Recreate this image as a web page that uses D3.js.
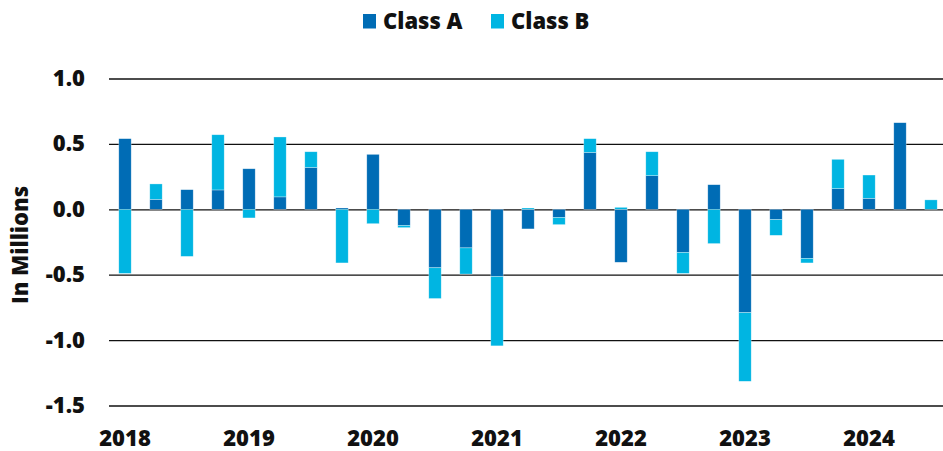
<!DOCTYPE html>
<html lang="en">
  <head>
    <meta charset="UTF-8" />
    <title>Class A / Class B</title>
    <script src="https://d3js.org/d3.v7.min.js"></script>
    <style>
      body { margin: 0; background: #fff; }
      text { font-family: "Open Sans", "Noto Sans", sans-serif; font-weight: 800; fill: #111; }
    </style>
  </head>
  <body>
    <div id="chart"></div>
    <script>
      // quarters 2018 Q1 .. 2024 Q3
      const quarters = [
        "2018 Q1", "2018 Q2", "2018 Q3", "2018 Q4",
        "2019 Q1", "2019 Q2", "2019 Q3", "2019 Q4",
        "2020 Q1", "2020 Q2", "2020 Q3", "2020 Q4",
        "2021 Q1", "2021 Q2", "2021 Q3", "2021 Q4",
        "2022 Q1", "2022 Q2", "2022 Q3", "2022 Q4",
        "2023 Q1", "2023 Q2", "2023 Q3", "2023 Q4",
        "2024 Q1", "2024 Q2", "2024 Q3"
      ];
      const classA = [
        0.54, 0.076, 0.15, 0.148,
        0.31, 0.095, 0.32, 0.01,
        0.42, -0.124, -0.447, -0.295,
        -0.514, -0.15, -0.063, 0.435,
        -0.405, 0.257, -0.33, 0.188,
        -0.79, -0.079, -0.376, 0.158,
        0.084, 0.662, 0
      ];
      const classB = [
        -0.49, 0.118, -0.36, 0.422,
        -0.066, 0.458, 0.12, -0.41,
        -0.11, -0.016, -0.235, -0.2,
        -0.53, 0.01, -0.054, 0.105,
        0.015, 0.183, -0.16, -0.262,
        -0.525, -0.12, -0.034, 0.224,
        0.178, 0, 0.072
      ];
      const yTicks = [1.0, 0.5, 0.0, -0.5, -1.0, -1.5];
      const yearTicks = ["2018 Q1", "2019 Q1", "2020 Q1", "2021 Q1", "2022 Q1", "2023 Q1", "2024 Q1"];

      const width = 943;
      const height = 451;
      const colors = { A: "#006cb5", B: "#00b5e2" };
      const fontSize = "22px";

      const svg = d3.select("#chart").append("svg")
        .attr("width", width)
        .attr("height", height);

      const x = d3.scaleBand()
        .domain(quarters)
        .range([109.5, 946.5])
        .paddingInner(0.6)
        .paddingOuter(0.3);

      const y = d3.scaleLinear()
        .domain([-1.5, 1.0])
        .range([405.5, 78.5]);

      // gridlines + labels (plain hyphen for negatives, like the original)
      const yAxis = d3.axisLeft(y)
        .tickValues(yTicks)
        .tickSize(0)
        .tickFormat((d) => d.toFixed(1));
      const gy = svg.append("g").attr("transform", "translate(109,0)").call(yAxis);
      gy.select(".domain").remove();
      gy.selectAll("text")
        .attr("x", -24)
        .style("font-size", fontSize)
        .style("font-family", "'Open Sans', sans-serif")
        .style("font-weight", 800)
        .attr("fill", "#111");
      gy.selectAll(".tick").append("line")
        .attr("x1", 0)
        .attr("x2", width - 109)
        .attr("stroke", "#111")
        .attr("stroke-width", 1.3);

      // stacked bars
      const rows = quarters.map((q, i) => ({ q: q, A: classA[i], B: classB[i] }));
      const series = d3.stack()
        .keys(["A", "B"])
        .offset(d3.stackOffsetDiverging)(rows);

      svg.append("g").selectAll("g")
        .data(series)
        .join("g")
        .attr("fill", (s) => colors[s.key])
        .selectAll("rect")
        .data((s) => s)
        .join("rect")
        .attr("x", (d) => x(d.data.q))
        .attr("width", x.bandwidth())
        .attr("y", (d) => y(Math.max(d[0], d[1])))
        .attr("height", (d) => Math.abs(y(d[0]) - y(d[1])))
        .attr("stroke", "#ffffff")
        .attr("stroke-opacity", 0.5)
        .attr("stroke-width", 0.6);

      // x axis: years under Q1 bars
      const xAxis = d3.axisBottom(x)
        .tickValues(yearTicks)
        .tickSize(0)
        .tickFormat((d) => d.slice(0, 4));
      const gx = svg.append("g").attr("transform", "translate(0,446)").call(xAxis);
      gx.select(".domain").remove();
      gx.selectAll("text")
        .attr("y", 0)
        .attr("dy", 0)
        .style("font-size", fontSize)
        .style("font-family", "'Open Sans', sans-serif")
        .style("font-weight", 800)
        .attr("fill", "#111");

      // y title
      svg.append("text")
        .attr("transform", "translate(28,245) rotate(-90)")
        .attr("text-anchor", "middle")
        .style("font-size", fontSize)
        .text("In Millions");

      // legend
      const legend = [
        { key: "A", label: "Class A", x: 363 },
        { key: "B", label: "Class B", x: 491 }
      ];
      const lg = svg.append("g").selectAll("g")
        .data(legend)
        .join("g")
        .attr("transform", (d) => `translate(${d.x},14)`);
      lg.append("rect")
        .attr("width", 13)
        .attr("height", 14.5)
        .attr("fill", (d) => colors[d.key]);
      lg.append("text")
        .attr("x", 20)
        .attr("y", 14.5)
        .style("font-size", fontSize)
        .text((d) => d.label);
    </script>
  </body>
</html>
